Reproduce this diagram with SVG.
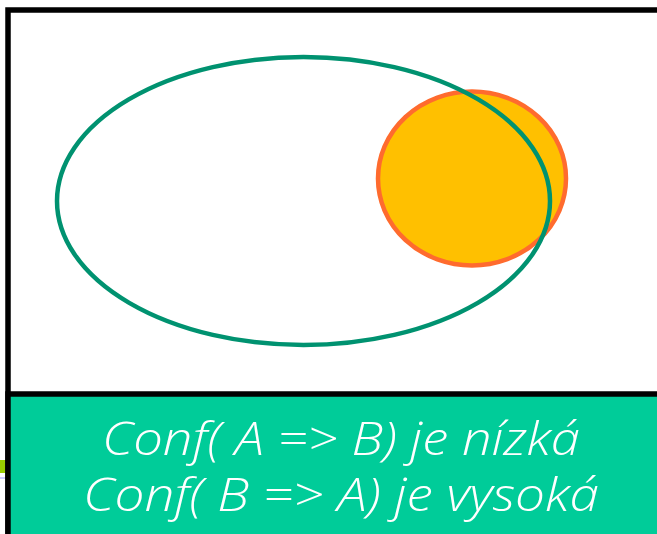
<svg xmlns="http://www.w3.org/2000/svg" width="657" height="534" viewBox="0 0 657 534">
<style>
.frame{fill:#FFFFFF;stroke:#000000;stroke-width:5.5}
.panel{fill:#00CC99;stroke:#000000;stroke-width:5.5}
.lbl{font-family:"Open Sans","Noto Sans","DejaVu Sans",sans-serif;font-style:italic;font-weight:300;font-size:46px;fill:#FFFFFF;text-anchor:middle}
</style>
<rect x="0" y="0" width="657" height="534" fill="#FFFFFF"/>
<rect x="0" y="460" width="6" height="13" fill="#99CC00"/>
<rect x="0" y="477" width="6" height="2" fill="#CCCCFF"/>
<rect class="frame" x="8" y="10" width="680" height="560"/>
<g id="B">
<ellipse cx="472" cy="178.5" rx="94" ry="87" fill="#FFC000" stroke="#FF6B2E" stroke-width="4.5"/>
</g>
<g id="A">
<ellipse cx="303.5" cy="201" rx="246.5" ry="144" fill="none" stroke="#009270" stroke-width="4.5"/>
</g>
<g id="caption">
<rect class="panel" x="8" y="394" width="680" height="180"/>
<text class="lbl" x="341" y="455" textLength="478" lengthAdjust="spacingAndGlyphs">Conf( A =&gt; B) je nízká</text>
<text class="lbl" x="341" y="511" textLength="516" lengthAdjust="spacingAndGlyphs">Conf( B =&gt; A) je vysoká</text>
</g>
</svg>
